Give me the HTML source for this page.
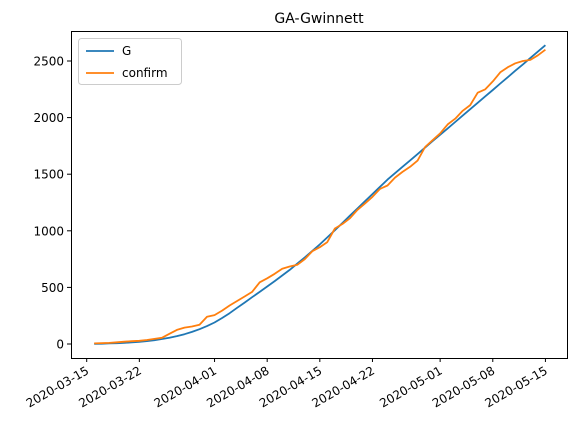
<!DOCTYPE html>
<html><head><meta charset="utf-8"><style>
body{margin:0;background:#fff;}
svg{font-family:"DejaVu Sans","Liberation Sans",sans-serif;}
</style></head><body>
<svg id="chart" width="577" height="430" xmlns="http://www.w3.org/2000/svg">
<rect width="577" height="430" fill="#fff"/>
<text x="319" y="23" font-size="14" text-anchor="middle">GA-Gwinnett</text>
<g id="lines"></g>
<rect x="71.5" y="31.5" width="496" height="327" fill="none" stroke="#000" stroke-width="1"/>
<g id="xaxis"></g><g id="yaxis"></g>
<g>
<rect x="78.5" y="38.5" width="103" height="46" rx="3" fill="#fff" stroke="#ccc"/>
<line x1="86" y1="51" x2="114" y2="51" stroke="#1f77b4" stroke-width="1.8"/>
<text x="122" y="55" font-size="12">G</text>
<line x1="86" y1="73" x2="114" y2="73" stroke="#ff7f0e" stroke-width="1.8"/>
<text x="122" y="77" font-size="12">confirm</text>
</g>
</svg>
<script>
const xTickLabels=["2020-03-15","2020-03-22","2020-04-01","2020-04-08","2020-04-15","2020-04-22","2020-05-01","2020-05-08","2020-05-15"];
const xTickDays=[0,7,17,24,31,38,47,54,61];
const yTicks=[0,500,1000,1500,2000,2500];
const startDay=1;
const gValues=[2,3,5,7,10,14,19,26,34,44,56,70,87,107,131,158,190,230,272,320,366,413,460,508,556,605,655,710,765,822,880,942,1005,1069,1133,1197,1261,1325,1389,1452,1509,1565,1622,1678,1735,1792,1848,1905,1961,2018,2074,2131,2188,2244,2301,2357,2414,2470,2527,2583,2640];
const confirmValues=[5,8,10,15,20,25,28,35,45,55,90,125,145,155,170,240,255,295,340,380,420,460,545,580,620,665,685,700,750,820,855,900,1020,1060,1110,1185,1240,1300,1370,1400,1470,1520,1565,1620,1740,1800,1860,1940,1990,2060,2110,2220,2250,2320,2400,2445,2480,2500,2510,2550,2600];
const NS="http://www.w3.org/2000/svg";
function xs(d){return 86.7+7.52*d;}
function ys(v){return 344-v*0.1132;}
function mk(t,a,p){const e=document.createElementNS(NS,t);for(const k in a)e.setAttribute(k,a[k]);p.appendChild(e);return e;}
const xa=document.getElementById('xaxis'),ya=document.getElementById('yaxis'),ln=document.getElementById('lines');
xTickDays.forEach((d,i)=>{const x=xs(d);
const t=mk('line',{x1:x,y1:358,x2:x,y2:362,stroke:'#000'},xa);


const l=mk('text',{x:x+3,y:373,'font-size':12,'text-anchor':'end',transform:`rotate(-30 ${x+3} 373)`},xa);
l.textContent=xTickLabels[i];

});
yTicks.forEach(v=>{const y=ys(v);
const t=mk('line',{x1:67,y1:y,x2:71.5,y2:y,stroke:'#000'},ya);


const l=mk('text',{x:64,y:y+4.5,'font-size':12,'text-anchor':'end'},ya);
l.textContent=v;

});
function path(vals,c,name){const p=vals.map((v,i)=>(i?'L':'M')+xs(startDay+i).toFixed(1)+' '+ys(v).toFixed(1)).join(' ');
const e=mk('path',{d:p,fill:'none',stroke:c,'stroke-width':1.8,'stroke-linejoin':'round'},ln);

}
path(gValues,'#1f77b4','series-g-line');
path(confirmValues,'#ff7f0e','series-confirm-line');
</script>
</body></html>
